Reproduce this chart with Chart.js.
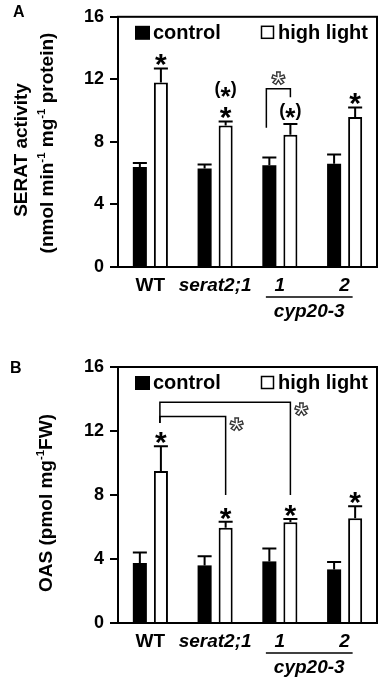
<!DOCTYPE html>
<html>
<head>
<meta charset="utf-8">
<script src="https://cdn.jsdelivr.net/npm/chart.js@4.4.0/dist/chart.umd.min.js"></script>
<style>
    body { margin: 0; background: #fff; }
    canvas { position: absolute; left: 0; }
    #chartA { top: 0; }
    #chartB { top: 340px; }
</style>
</head>
<body>
<canvas id="chartA" width="380" height="340"></canvas>
<canvas id="chartB" width="380" height="343"></canvas>
<script>
const categories = ['WT', 'serat2;1', '1', '2'];
const yTicks = [0, 4, 8, 12, 16];

// panel A: SERAT activity
const seratControl = [6.4, 6.3, 6.5, 6.6];
const seratControlErr = [0.25, 0.25, 0.5, 0.6];
const seratHigh = [11.8, 9.05, 8.45, 9.6];
const seratHighErr = [0.9, 0.25, 0.7, 0.6];
const seratMarks = [['*'], ['*', '(*)'], ['(*)'], ['*']];

// panel B: OAS
const oasControl = [3.75, 3.6, 3.85, 3.35];
const oasControlErr = [0.65, 0.57, 0.8, 0.47];
const oasHigh = [9.5, 5.95, 6.3, 6.55];
const oasHighErr = [1.55, 0.38, 0.2, 0.75];
const oasMarks = [['*'], ['*'], ['*'], ['*']];

const FAMILY = '"Liberation Sans", Arial, sans-serif';
const font = (size, style) => `${style || 'normal'} bold ${size}px ${FAMILY}`;

function drawStar(ctx, x, cy, size) {
    ctx.font = font(size);
    ctx.textAlign = 'center';
    ctx.textBaseline = 'alphabetic';
    ctx.fillText('*', x, cy + size * 0.56);
}

function drawHollowStar(ctx, x, cy) {
    const size = 34;
    ctx.save();
    ctx.font = font(size);
    ctx.textAlign = 'center';
    ctx.textBaseline = 'alphabetic';
    ctx.fillStyle = '#fff';
    ctx.strokeStyle = '#333';
    ctx.lineWidth = 1.3;
    ctx.fillText('*', x, cy + size * 0.56);
    ctx.strokeText('*', x, cy + size * 0.56);
    ctx.restore();
}

function drawParenStar(ctx, x, cy) {
    ctx.font = font(18);
    const wp = ctx.measureText('(').width;
    ctx.font = font(26);
    const ws = ctx.measureText('*').width;
    const left = x - (2 * wp + ws) / 2;
    ctx.font = font(18);
    ctx.textAlign = 'left';
    ctx.textBaseline = 'alphabetic';
    ctx.fillText('(', left, cy + 4.8);
    ctx.fillText(')', left + wp + ws, cy + 4.8);
    drawStar(ctx, left + wp + ws / 2, cy + 1, 26);
}

function drawRotated(ctx, parts, cx, cy, size) {
    ctx.save();
    ctx.translate(cx, cy);
    ctx.rotate(-Math.PI / 2);
    let total = 0;
    parts.forEach(p => {
        ctx.font = font(p.sup ? size * 0.6 : size);
        total += ctx.measureText(p.t).width;
    });
    let x = -total / 2;
    ctx.textAlign = 'left';
    ctx.textBaseline = 'middle';
    parts.forEach(p => {
        ctx.font = font(p.sup ? size * 0.6 : size);
        ctx.fillText(p.t, x, p.sup ? -size * 0.3 : 0);
        x += ctx.measureText(p.t).width;
    });
    ctx.restore();
}

const panelPlugin = {
    id: 'panelExtras',
    afterDatasetsDraw(chart, args, opts) {
        const ctx = chart.ctx;
        const area = chart.chartArea;
        const y = chart.scales.y;
        const xs = chart.scales.x;
        ctx.save();
        ctx.fillStyle = '#000';
        ctx.strokeStyle = '#000';

        // frame
        ctx.lineWidth = 2;
        ctx.strokeRect(area.left, area.top, area.right - area.left, area.bottom - area.top);

        // error bars (upper only)
        chart.data.datasets.forEach((ds, d) => {
            chart.getDatasetMeta(d).data.forEach((bar, i) => {
                const top = y.getPixelForValue(ds.data[i] + ds.errors[i]);
                const half = bar.width / 2;
                ctx.beginPath();
                ctx.moveTo(bar.x, bar.y);
                ctx.lineTo(bar.x, top);
                ctx.moveTo(bar.x - half, top);
                ctx.lineTo(bar.x + half, top);
                ctx.stroke();
            });
        });

        // significance marks above high light bars
        const hl = chart.data.datasets[1];
        chart.getDatasetMeta(1).data.forEach((bar, i) => {
            let cy = y.getPixelForValue(hl.data[i] + hl.errors[i]) - 12;
            opts.marks[i].forEach(m => {
                if (m === '*') { drawStar(ctx, bar.x, cy + 1, 30); cy -= 19; }
                else { drawParenStar(ctx, bar.x, cy - 1); cy -= 19; }
            });
        });

        // brackets
        ctx.lineWidth = 1.5;
        opts.brackets.forEach(b => {
            const x1 = chart.getDatasetMeta(b.a[0]).data[b.a[1]].x + (b.dx1 || 0);
            const x2 = chart.getDatasetMeta(b.b[0]).data[b.b[1]].x + (b.dx2 || 0);
            const yt = y.getPixelForValue(b.top);
            ctx.beginPath();
            ctx.moveTo(x1, y.getPixelForValue(b.end1));
            ctx.lineTo(x1, yt);
            ctx.lineTo(x2, yt);
            ctx.lineTo(x2, y.getPixelForValue(b.end2));
            ctx.stroke();
            if (b.star === 'mid') drawHollowStar(ctx, (x1 + x2) / 2, yt - 13);
            else drawHollowStar(ctx, x2 + 11, yt + 5);
        });

        // legend inside plot
        ctx.fillRect(area.left + 17, area.top + 9, 15, 14);
        ctx.font = font(20);
        ctx.textAlign = 'left';
        ctx.textBaseline = 'alphabetic';
        ctx.fillText(chart.data.datasets[0].label, area.left + 35, area.top + 22);
        ctx.lineWidth = 1.5;
        ctx.strokeRect(area.left + 143.5, area.top + 9.5, 12, 12);
        ctx.fillText(chart.data.datasets[1].label, area.left + 160, area.top + 22);

        // cyp20-3 group line
        const gx1 = xs.getPixelForValue(2) - 14;
        const gx2 = xs.getPixelForValue(3) + 8;
        ctx.lineWidth = 1.5;
        ctx.beginPath();
        ctx.moveTo(gx1, area.bottom + 30);
        ctx.lineTo(gx2, area.bottom + 30);
        ctx.stroke();
        ctx.font = font(19, 'italic');
        ctx.textAlign = 'center';
        ctx.fillText('cyp20-3', (gx1 + gx2) / 2, area.bottom + 50);

        // y title and panel letter
        opts.title.forEach(line => drawRotated(ctx, line.parts, line.x, line.y, 19));
        ctx.font = font(16);
        ctx.textAlign = 'left';
        ctx.fillText(opts.letter[0], opts.letter[1], opts.letter[2]);
        ctx.restore();
    }
};

function makePanel(id, cfg) {
    return new Chart(document.getElementById(id), {
        type: 'bar',
        data: {
            labels: categories,
            datasets: [
                { label: 'control', data: cfg.control, errors: cfg.controlErr, backgroundColor: '#000', borderColor: '#000', borderWidth: 0 },
                { label: 'high light', data: cfg.high, errors: cfg.highErr, backgroundColor: '#fff', borderColor: '#000', borderWidth: 2 }
            ]
        },
        plugins: [panelPlugin],
        options: {
            responsive: false,
            devicePixelRatio: 1,
            animation: false,
            categoryPercentage: 0.65,
            barPercentage: 0.667,
            layout: { padding: { top: cfg.top, right: 3, left: 0, bottom: 0 } },
            plugins: {
                legend: { display: false },
                tooltip: { enabled: false },
                panelExtras: { marks: cfg.marks, brackets: cfg.brackets, title: cfg.title, letter: cfg.letter }
            },
            scales: {
                x: {
                    offset: true,
                    grid: { display: false, drawTicks: false },
                    border: { display: true, color: '#000', width: 2 },
                    afterFit: (s) => { s.height = cfg.xHeight; },
                    ticks: {
                        color: '#000',
                        padding: 7,
                        maxRotation: 0,
                        autoSkip: false,
                        font: (c) => ({ family: FAMILY, size: 19, weight: 'bold', style: c.index === 0 ? 'normal' : 'italic' })
                    }
                },
                y: {
                    min: 0,
                    max: 16,
                    afterFit: (s) => { s.width = 118; },
                    afterBuildTicks: (s) => { s.ticks = yTicks.map(v => ({ value: v })); },
                    grid: { drawOnChartArea: false, tickLength: 8, color: '#000', lineWidth: 2 },
                    border: { display: true, color: '#000', width: 2 },
                    ticks: { color: '#000', padding: 6, font: { family: FAMILY, size: 18, weight: 'bold' } }
                }
            }
        }
    });
}

makePanel('chartA', {
    control: seratControl, controlErr: seratControlErr,
    high: seratHigh, highErr: seratHighErr,
    marks: seratMarks,
    top: 9, xHeight: 73,
    brackets: [{ a: [0, 2], b: [1, 2], dx1: -3, top: 11.4, end1: 8.9, end2: 10.85, star: 'mid' }],
    title: [
        { x: 22, y: 150, parts: [{ t: 'SERAT activity' }] },
        { x: 48, y: 143, parts: [{ t: '(nmol min' }, { t: '-1', sup: true }, { t: ' mg' }, { t: '-1', sup: true }, { t: ' protein)' }] }
    ],
    letter: ['A', 13, 17]
});

makePanel('chartB', {
    control: oasControl, controlErr: oasControlErr,
    high: oasHigh, highErr: oasHighErr,
    marks: oasMarks,
    top: 27, xHeight: 60,
    brackets: [
        { a: [1, 0], b: [1, 2], dx1: -1, top: 13.8, end1: 12.5, end2: 8.0, star: 'right' },
        { a: [1, 0], b: [1, 1], dx1: -1, top: 12.9, end1: 12.5, end2: 8.0, star: 'right' }
    ],
    title: [
        { x: 47, y: 163, parts: [{ t: 'OAS (pmol mg' }, { t: '-1', sup: true }, { t: 'FW)' }] }
    ],
    letter: ['B', 10, 33]
});
</script>
</body>
</html>
